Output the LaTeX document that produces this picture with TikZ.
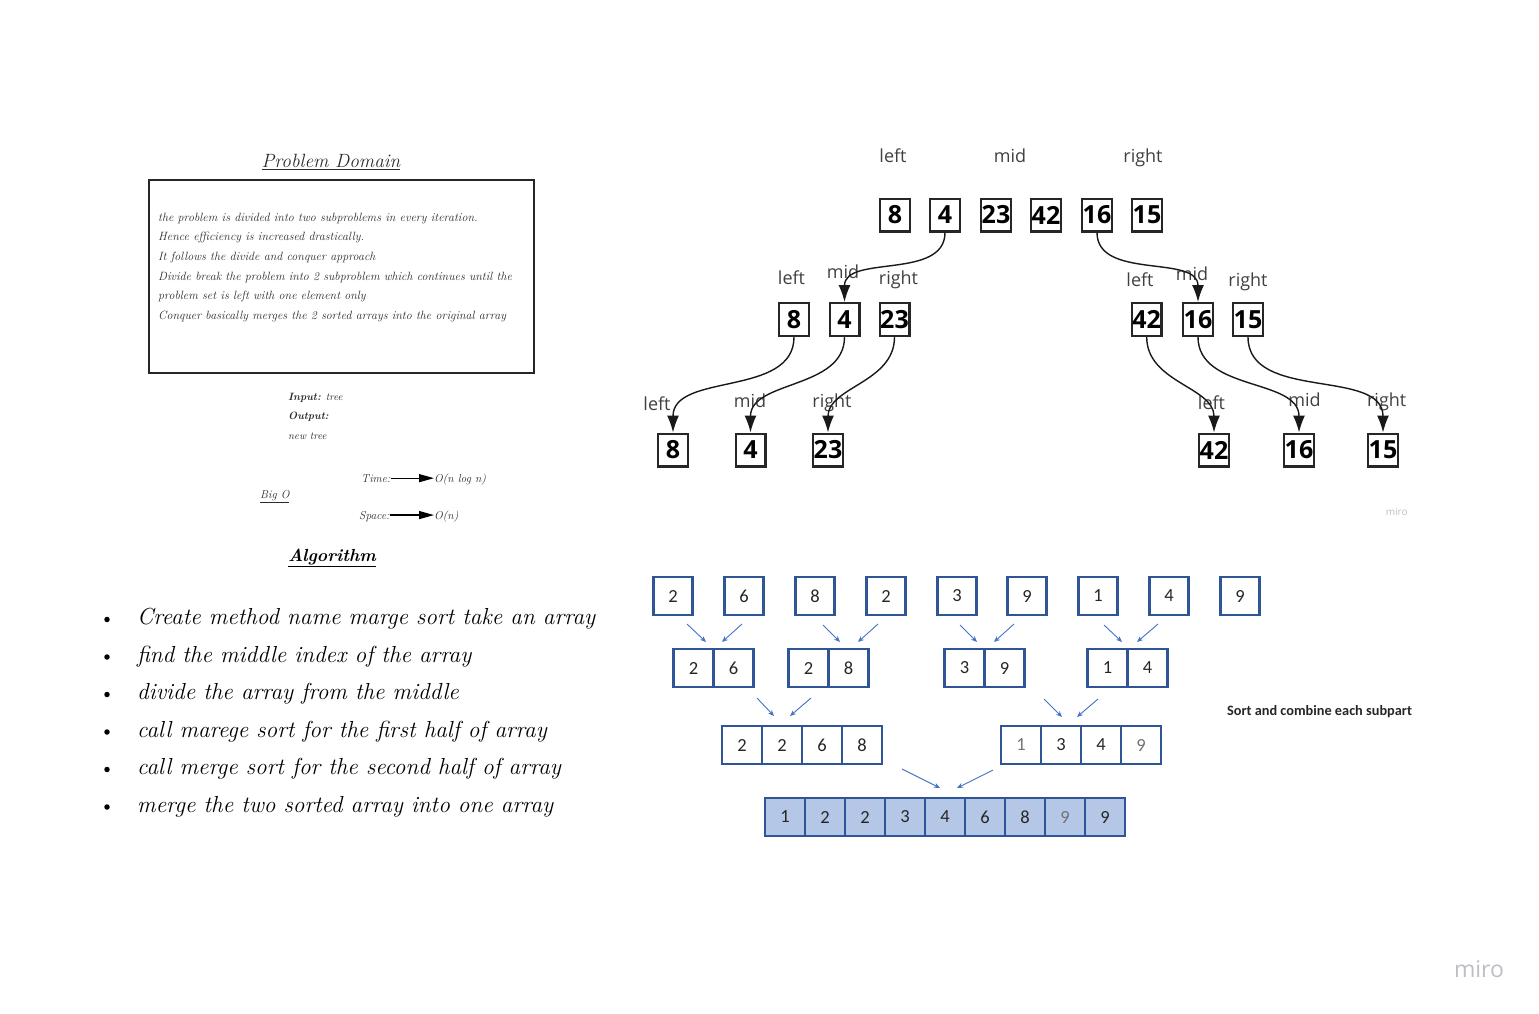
\documentclass[tikz,border=0pt]{standalone}
\usepackage{fontspec}
\usetikzlibrary{arrows.meta}
\newfontfamily\opensans{Open Sans}
\newfontfamily\carlito{Carlito}
\definecolor{boxblue}{HTML}{2F5597}
\definecolor{arrowblue}{HTML}{4472C4}
\definecolor{fillblue}{HTML}{B4C7E7}
\definecolor{ink}{HTML}{2B2B2B}
\definecolor{mirogray}{HTML}{BDBDC6}

\tikzset{
    num/.style={draw=black!85, line width=2.4pt, minimum width=29.6pt, minimum height=32.6pt, inner sep=0pt, font=\opensans\bfseries\fontsize{25}{25}\selectfont},
    side/.style={anchor=base, text=black!75, font=\opensans\fontsize{18}{18}\selectfont},
    cell/.style={draw=boxblue, line width=2.6pt, minimum width=40pt, minimum height=38pt, inner sep=0pt, text=black!85, font=\carlito\fontsize{18.5}{18.5}\selectfont},
    hand/.style={anchor=base west, inner sep=0pt, text=ink, font=\itshape\fontsize{12}{14}\selectfont},
    small/.style={anchor=base west, inner sep=0pt, text=ink, font=\itshape\fontsize{10.6}{12}\selectfont},
    algo/.style={anchor=base west, inner sep=0pt, text=black, font=\itshape\fontsize{23.2}{26}\selectfont},
    bullet/.style={circle, fill=black, inner sep=0pt, minimum size=5.5pt},
    splitarrow/.style={-{Latex[length=17pt,width=12pt]}, line width=1.4pt, black!90},
    mergearrow/.style={-{Stealth[length=6pt,width=5pt]}, line width=0.9pt, arrowblue},
    bigoarrow/.style={-{Triangle[length=15pt,width=8pt]}, line width=1.2pt},
}

\begin{document}
\begin{tikzpicture}[x=1pt, y=-1pt]
                \useasboundingbox (0,0) rectangle (1539,1014);

                % problem domain
                \node[text=ink, font=\itshape\fontsize{19.2}{20}\selectfont] (pdtitle) at (331,162) {\underline{Problem Domain}};
                \node[draw=black!85, line width=2pt, minimum width=385pt, minimum height=193pt] (pdbox) at (341.5,276.5) {};
                \node[hand] (pd1) at (158,221) {the problem is divided into two subproblems in every iteration.};
                \node[hand] (pd2) at (158,240.7) {Hence efficiency is increased drastically.};
                \node[hand] (pd3) at (158,260.4) {It follows the divide and conquer approach};
                \node[hand] (pd4) at (158,280.1) {Divide break the problem into 2 subproblem which continues until the};
                \node[hand] (pd5) at (158,299.8) {problem set is left with one element only};
                \node[hand] (pd6) at (158,319.5) {Conquer basically merges the 2 sorted arrays into the original array};

                \node[small] (input) at (288,400) {\textbf{Input:} tree};
                \node[small] (output) at (288,419.5) {\textbf{Output:}};
                \node[small] (newtree) at (288,439.5) {new tree};

                \node[small, font=\itshape\fontsize{11.5}{12}\selectfont] (bigo) at (260,498) {\underline{Big O}};
                \node[small, font=\itshape\fontsize{11.5}{12}\selectfont] (tm) at (361,482) {Time:};
                \node[small, font=\itshape\fontsize{11.5}{12}\selectfont] (tmo) at (434,482) {O(n log n)};
                \node[small, font=\itshape\fontsize{11.5}{12}\selectfont] (sp) at (359,519.5) {Space:};
                \node[small, font=\itshape\fontsize{11.5}{12}\selectfont] (spo) at (434,519.5) {O(n)};
                \draw[bigoarrow] (tm.east) -- (tm.east -| tmo.west);
                \draw[bigoarrow] ([yshift=1.5pt]sp.east) -- ([yshift=1.5pt]sp.east -| spo.west);

                % algorithm
                \node[anchor=base, text=black, font=\bfseries\itshape\fontsize{17.5}{18}\selectfont] (algtitle) at (332,561.5) {\underline{Algorithm}};
                \node[bullet] (b1) at (107,619.5) {};
                \node[bullet] (b2) at (107,657) {};
                \node[bullet] (b3) at (107,694.5) {};
                \node[bullet] (b4) at (107,732) {};
                \node[bullet] (b5) at (107,769.5) {};
                \node[bullet] (b6) at (107,807) {};
                \node[algo] (a1) at (137,624.5) {Create method name marge sort take an array};
                \node[algo] (a2) at (137,662) {find the middle index of the array};
                \node[algo] (a3) at (137,699.5) {divide the array from the middle};
                \node[algo] (a4) at (137,737) {call marege sort for the first half of array};
                \node[algo] (a5) at (137,774.5) {call merge sort for the second half of array};
                \node[algo] (a6) at (137,812) {merge the two sorted array into one array};

                % divide tree
                \node[side] at (893,162) {left};
                \node[side] at (1010,162) {mid};
                \node[side] at (1143,162) {right};
                \node[num] (01) at (895,215) {8};
                \node[num] (02) at (945,215) {4};
                \node[num] (03) at (996,215) {23};
                \node[num] (04) at (1046,215) {42};
                \node[num] (05) at (1097,215) {16};
                \node[num] (06) at (1147,215) {15};

                \node[side] at (791.5,284) {left};
                \node[side] at (843,278) {mid};
                \node[side] at (898.5,284) {right};
                \node[side] at (1140,286.5) {left};
                \node[side] at (1192,280.5) {mid};
                \node[side] at (1248,286.5) {right};
                \node[num] (11) at (794,319.5) {8};
                \node[num] (12) at (844.5,319.5) {4};
                \node[num] (13) at (894.5,319.5) {23};
                \node[num] (14) at (1146.7,319.5) {42};
                \node[num] (15) at (1198,319.5) {16};
                \node[num] (16) at (1248,319.5) {15};

                \node[side] at (657,410) {left};
                \node[side] at (750,407) {mid};
                \node[side] at (832,407) {right};
                \node[side] at (1211.5,409) {left};
                \node[side] at (1304.5,406.7) {mid};
                \node[side] at (1386.7,406.7) {right};
                \node[num] (21) at (673,450) {8};
                \node[num] (22) at (750.5,450) {4};
                \node[num] (23) at (828,450) {23};
                \node[num] (24) at (1214,450) {42};
                \node[num] (25) at (1299,450) {16};
                \node[num] (26) at (1383,450) {15};

                \draw[splitarrow]
                    (02) edge[out=-90, in=90] (12)
                    (05) edge[out=-90, in=90] (15)
                    (11) edge[out=-90, in=90] (21)
                    (12) edge[out=-90, in=90] (22)
                    (13) edge[out=-90, in=90] (23)
                    (14) edge[out=-90, in=90] (24)
                    (15) edge[out=-90, in=90] (25)
                    (16) edge[out=-90, in=90] (26)
                    ;

                \node[text=mirogray, font=\opensans\fontsize{10}{10}\selectfont] (miro1) at (1396.7,512) {miro};

                % merge steps
                \node[cell, minimum width=38.5pt] (s1) at (673,596) {2};
                \node[cell, minimum width=38.5pt] (s2) at (744,596) {6};
                \node[cell, minimum width=38.5pt] (s3) at (815,596) {8};
                \node[cell, minimum width=38.5pt] (s4) at (886,596) {2};
                \node[cell, minimum width=38.5pt] (s5) at (957,596) {3};
                \node[cell, minimum width=38.5pt] (s6) at (1027,596) {9};
                \node[cell, minimum width=38.5pt] (s7) at (1098,596) {1};
                \node[cell, minimum width=38.5pt] (s8) at (1169,596) {4};
                \node[cell, minimum width=38.5pt] (s9) at (1240,596) {9};

                \node[cell] (p1a) at (693.5,668) {2};
                \node[cell] (p1b) at (733.5,668) {6};
                \node[cell] (p2a) at (808.5,668) {2};
                \node[cell] (p2b) at (848.5,668) {8};
                \node[cell] (p3a) at (964.5,668) {3};
                \node[cell] (p3b) at (1004.5,668) {9};
                \node[cell] (p4a) at (1107.5,668) {1};
                \node[cell] (p4b) at (1147.5,668) {4};

                \node[cell] (q1a) at (742,745) {2};
                \node[cell] (q1b) at (782,745) {2};
                \node[cell] (q1c) at (822,745) {6};
                \node[cell] (q1d) at (862,745) {8};
                \node[cell, text=black!55] (q2a) at (1021,745) {1};
                \node[cell] (q2b) at (1061,745) {3};
                \node[cell] (q2c) at (1101,745) {4};
                \node[cell, text=black!55] (q2d) at (1141,745) {9};

                \node[cell, fill=fillblue] (r1) at (785,817) {1};
                \node[cell, fill=fillblue] (r2) at (825,817) {2};
                \node[cell, fill=fillblue] (r3) at (865,817) {2};
                \node[cell, fill=fillblue] (r4) at (905,817) {3};
                \node[cell, fill=fillblue] (r5) at (945,817) {4};
                \node[cell, fill=fillblue] (r6) at (985,817) {6};
                \node[cell, fill=fillblue] (r7) at (1025,817) {8};
                \node[cell, fill=fillblue, text=black!55] (r8) at (1065,817) {9};
                \node[cell, fill=fillblue] (r9) at (1105,817) {9};

                \draw[mergearrow] ([shift={(14,28)}]s1.center) -- ([shift={(12.5,-26)}]p1a.center);
                \draw[mergearrow] ([shift={(-2,28)}]s2.center) -- ([shift={(-11.5,-26)}]p1b.center);
                \draw[mergearrow] ([shift={(8,29)}]s3.center) -- ([shift={(-8.5,-26)}]p2b.center);
                \draw[mergearrow] ([shift={(-8,28)}]s4.center) -- ([shift={(9.5,-26)}]p2b.center);
                \draw[mergearrow] ([shift={(3,29)}]s5.center) -- ([shift={(12.5,-26)}]p3a.center);
                \draw[mergearrow] ([shift={(-13,28)}]s6.center) -- ([shift={(-10.5,-26)}]p3b.center);
                \draw[mergearrow] ([shift={(6,29)}]s7.center) -- ([shift={(14.5,-26)}]p4a.center);
                \draw[mergearrow] ([shift={(-11,28)}]s8.center) -- ([shift={(-10.5,-26)}]p4b.center);

                \draw[mergearrow] ([shift={(23.5,30)}]p1b.center) -- ([shift={(-8,-29)}]q1b.center);
                \draw[mergearrow] ([shift={(2.5,30)}]p2a.center) -- ([shift={(8,-29)}]q1b.center);
                \draw[mergearrow] ([shift={(39.5,31)}]p3b.center) -- ([shift={(1,-28)}]q2b.center);
                \draw[mergearrow] ([shift={(-9.5,31)}]p4a.center) -- ([shift={(16,-28)}]q2b.center);

                \draw[mergearrow] ([shift={(40,24)}]q1d.center) -- ([shift={(-5,-29)}]r5.center);
                \draw[mergearrow] ([shift={(-28,25)}]q2a.center) -- ([shift={(12,-29)}]r5.center);

                \node[anchor=base, text=black!85, font=\carlito\bfseries\fontsize{14.3}{14.3}\selectfont] (sortnote) at (1319.5,715) {Sort and combine each subpart};

                \node[anchor=base, text=mirogray, font=\opensans\fontsize{23}{23}\selectfont] (miro2) at (1479,977) {miro};
            \end{tikzpicture}
\end{document}
